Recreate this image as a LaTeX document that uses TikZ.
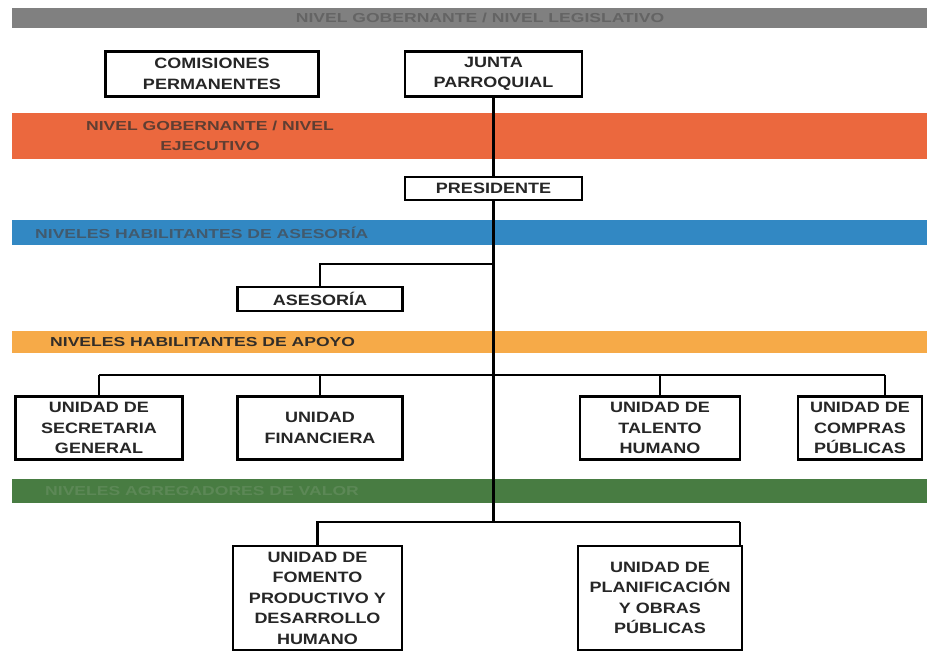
\documentclass[tikz,border=0pt]{standalone}
\usepackage{fontspec}
\setmainfont{Liberation Sans}[FakeStretch=1.2]
\newfontfamily\bandfont{Liberation Sans}[FakeStretch=1.35]
\usetikzlibrary{positioning}

\definecolor{bandgray}{RGB}{128,128,128}
\definecolor{textgray}{RGB}{100,100,100}
\definecolor{bandorange}{RGB}{235,104,62}
\definecolor{textorange}{RGB}{95,62,50}
\definecolor{bandblue}{RGB}{50,136,195}
\definecolor{textblue}{RGB}{65,90,110}
\definecolor{bandyellow}{RGB}{246,170,72}
\definecolor{textyellow}{RGB}{50,45,40}
\definecolor{bandgreen}{RGB}{72,124,66}
\definecolor{textgreen}{RGB}{92,136,86}

\tikzset{
	unit/.style={draw, line width=2.4pt, fill=white, align=center, inner sep=0pt,
		font=\fontsize{15}{20.5}\selectfont\bfseries, text=black!85},
	link/.style={line width=2.4pt},
	bandtext/.style={font=\bandfont\fontsize{13}{20}\selectfont\bfseries, inner sep=0pt, align=center}
}

\begin{document}
\begin{tikzpicture}[x=1pt, y=-1pt]
	\fill[white] (0,0) rectangle (927,651);
	\useasboundingbox (0,0) rectangle (927,651);

	\fill[bandgray] (12,8) rectangle (927,28);
	\node[bandtext, text=textgray] (legislativo) at (480,18) {NIVEL GOBERNANTE / NIVEL LEGISLATIVO};
	\fill[bandorange] (12,113) rectangle (927,159);
	\node[bandtext, text=textorange] (ejecutivo) at (210,136) {NIVEL GOBERNANTE / NIVEL\\EJECUTIVO};
	\fill[bandblue] (12,220) rectangle (927,245);
	\node[bandtext, text=textblue, anchor=west] (asesorianivel) at (35,232.5) {NIVELES HABILITANTES DE ASESOR\'IA};
	\fill[bandyellow] (12,331) rectangle (927,353);
	\node[bandtext, text=textyellow, anchor=west] (apoyonivel) at (50,342) {NIVELES HABILITANTES DE APOYO};
	\fill[bandgreen] (12,479) rectangle (927,503);
	\node[bandtext, text=textgreen, anchor=west] (valornivel) at (45,491) {NIVELES AGREGADORES DE VALOR};

	\node[unit, minimum width=213pt, minimum height=45pt] (comisiones) at (212,74) {COMISIONES\\PERMANENTES};
	\node[unit, minimum width=177pt, minimum height=45pt] (junta) at (493.5,74) {JUNTA\\PARROQUIAL};
	\node[unit, minimum width=177pt, minimum height=23pt] (presidente) at (493.5,188.5) {PRESIDENTE};
	\node[unit, minimum width=165pt, minimum height=24pt] (asesoria) at (320,299) {ASESOR\'IA};
	\node[unit, minimum width=167pt, minimum height=63pt] (secretaria) at (99,428) {UNIDAD DE\\SECRETARIA\\GENERAL};
	\node[unit, minimum width=165pt, minimum height=63pt] (financiera) at (320,428) {UNIDAD\\FINANCIERA};
	\node[unit, minimum width=160pt, minimum height=63pt] (talento) at (660,428) {UNIDAD DE\\TALENTO\\HUMANO};
	\node[unit, minimum width=124pt, minimum height=63pt] (compras) at (860,428) {UNIDAD DE\\COMPRAS\\P\'UBLICAS};
	\node[unit, minimum width=169pt, minimum height=104pt] (fomento) at (317.5,598) {UNIDAD DE\\FOMENTO\\PRODUCTIVO Y\\DESARROLLO\\HUMANO};
	\node[unit, minimum width=164pt, minimum height=104pt] (planificacion) at (660,598) {UNIDAD DE\\PLANIFICACI\'ON\\Y OBRAS\\P\'UBLICAS};

	\coordinate (asesoriasplit) at (493.5,264);
	\coordinate (apoyoleft) at (99,375);
	\coordinate (apoyoright) at (885,375);
	\coordinate (valorsplit) at (493.5,522);
	\coordinate (valorright) at (740,522);

	\draw[link] (junta) -- (presidente);
	\draw[link] (presidente) -- (valorsplit);
	\draw[link] (asesoriasplit) -| (asesoria);
	\draw[link] (apoyoleft) -- (apoyoright);
	\draw[link] (apoyoleft) -- (secretaria);
	\draw[link] (financiera.north |- apoyoright) -- (financiera);
	\draw[link] (talento.north |- apoyoright) -- (talento);
	\draw[link] (apoyoright) -- (apoyoright |- compras.north);
	\draw[link] (fomento) |- (valorright);
	\draw[link] (valorright) -- (valorright |- planificacion.north);
\end{tikzpicture}
\end{document}
